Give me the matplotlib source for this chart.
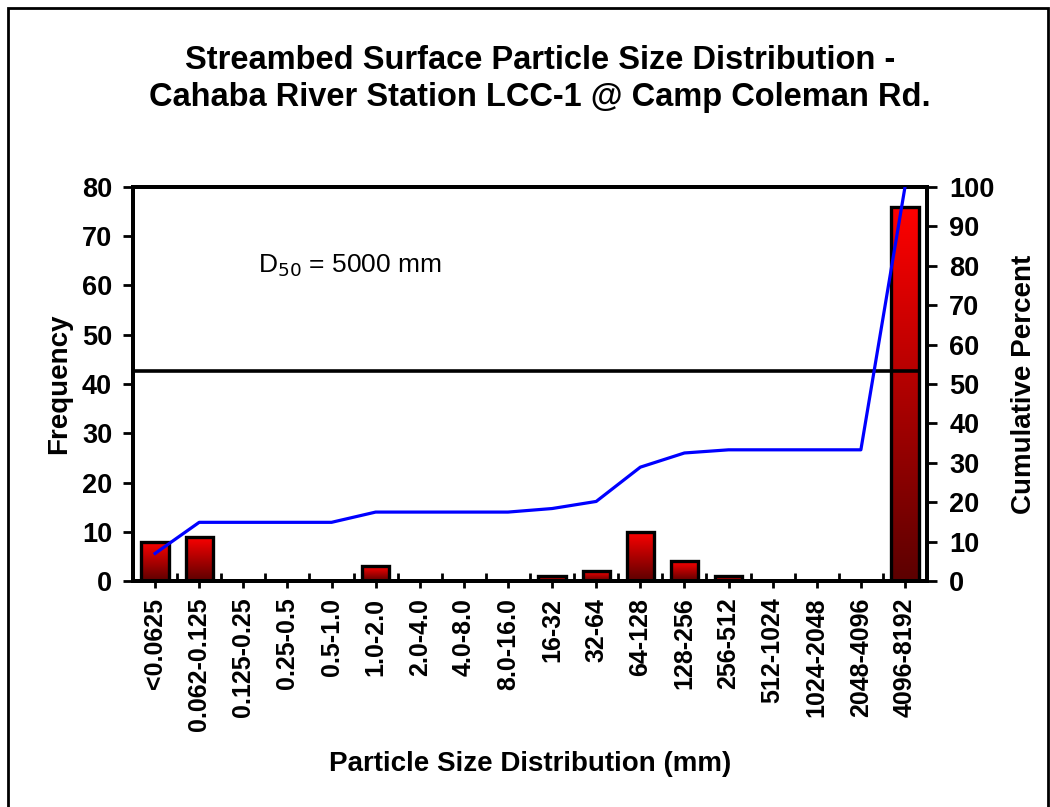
import numpy as np
import matplotlib
matplotlib.use("Agg")
import matplotlib.pyplot as plt
from matplotlib.colors import LinearSegmentedColormap
from matplotlib.patches import Rectangle
from matplotlib.ticker import FixedLocator

plt.rcParams['font.family'] = ['Liberation Sans', 'DejaVu Sans']

# data
categories = ["<0.0625", "0.062-0.125", "0.125-0.25", "0.25-0.5", "0.5-1.0",
              "1.0-2.0", "2.0-4.0", "4.0-8.0", "8.0-16.0", "16-32", "32-64",
              "64-128", "128-256", "256-512", "512-1024", "1024-2048",
              "2048-4096", "4096-8192"]
frequency = [8, 9, 0, 0, 0, 3, 0, 0, 0, 1, 2, 10, 4, 1, 0, 0, 0, 76]
cumulative = [7.0, 14.9, 14.9, 14.9, 14.9, 17.5, 17.5, 17.5, 17.5, 18.4,
              20.2, 28.9, 32.5, 33.3, 33.3, 33.3, 33.3, 100.0]
d50_line = 42.7  # horizontal line, left-axis units

fig = plt.figure(figsize=(10.5, 8.07), dpi=100)
ax = fig.add_axes([0.1267, 0.280, 0.7562, 0.4883])
x = np.arange(len(categories))

# gradient bars
cmap = LinearSegmentedColormap.from_list("redgrad", ["#5c0000", "#ff0000"])
grad = np.linspace(0, 1, 256).reshape(-1, 1)
width = 0.62
for xi, h in zip(x, frequency):
    if h <= 0:
        continue
    rect = Rectangle((xi - width / 2, 0), width, h, facecolor="none",
                     edgecolor="black", linewidth=2.4, zorder=3)
    ax.add_patch(rect)
    im = ax.imshow(grad, cmap=cmap, origin="lower", aspect="auto",
                   extent=[xi - width / 2, xi + width / 2, 0, h], zorder=2)
    im.set_clip_path(rect)

ax.hlines(d50_line, -0.5, 17.3, color="black", linewidth=2.6, zorder=4)

fs = 19.5
ax.set_xlim(-0.5, 17.5)
ax.set_ylim(0, 80)
ax.set_yticks(np.arange(0, 81, 10))
ax.set_xticks(x)
ax.set_xticklabels(categories, rotation=90, fontsize=18, fontweight="bold")
ax.xaxis.set_minor_locator(FixedLocator(np.arange(0.5, 17.5, 1)))
ax.tick_params(axis="x", which="major", direction="out", length=5, width=2, pad=7)
ax.tick_params(axis="x", which="minor", direction="in", length=6, width=2)
ax.tick_params(axis="y", direction="out", length=7, width=2, labelsize=fs, pad=8)
for lab in ax.get_yticklabels():
    lab.set_fontweight("bold")
for sp in ax.spines.values():
    sp.set_linewidth(2.8)

ax2 = ax.twinx()
ax2.plot(x, cumulative, color="#0000ff", linewidth=2.3, zorder=5)
ax2.set_ylim(0, 100)
ax2.set_yticks(np.arange(0, 101, 10))
ax2.tick_params(axis="y", direction="out", length=7, width=2, labelsize=fs, pad=9)
for lab in ax2.get_yticklabels():
    lab.set_fontweight("bold")
for sp in ax2.spines.values():
    sp.set_linewidth(2.8)

ax.set_ylabel("Frequency", fontsize=20, fontweight="bold", labelpad=7)
ax2.set_ylabel("Cumulative Percent", fontsize=20, fontweight="bold", labelpad=12)
ax.set_xlabel("Particle Size Distribution (mm)", fontsize=20,
              fontweight="bold", labelpad=14)

ax.text(0.158, 0.8, "D$_{50}$ = 5000 mm", transform=ax.transAxes,
        fontsize=19, ha="left", va="center")

fig.text(0.514, 0.902, "Streambed Surface Particle Size Distribution -\n"
         "Cahaba River Station LCC-1 @ Camp Coleman Rd.",
         ha="center", va="center", fontsize=23.5, fontweight="bold",
         linespacing=1.28)

# outer border
fig.patches.append(Rectangle((8 / 1050, -0.02), 1040 / 1050, 1 - 8 / 807 + 0.02,
                             transform=fig.transFigure, fill=False,
                             edgecolor="black", linewidth=2))

fig.savefig("out.png", dpi=100)
